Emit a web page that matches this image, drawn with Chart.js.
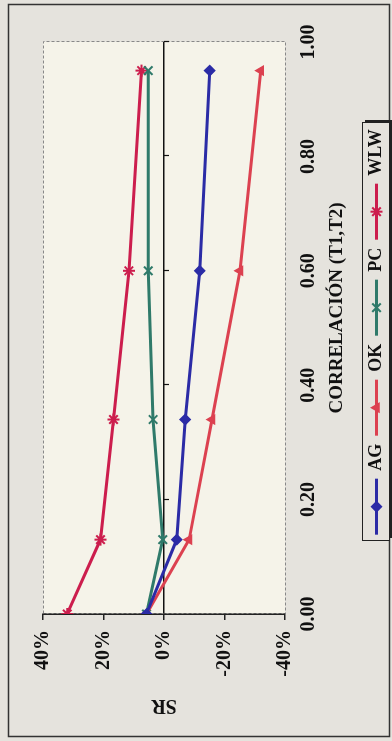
<!DOCTYPE html>
<html>
<head>
<meta charset="utf-8">
<script src="https://cdn.jsdelivr.net/npm/chart.js@4/dist/chart.umd.min.js"></script>
<style>
  html, body { margin: 0; padding: 0; background: #e5e3dd; overflow: hidden; }
  /* the chart is drawn upright, then turned a quarter to the left like the scan */
  #wrap {
    position: absolute; left: 0; top: 0; width: 741px; height: 392px;
    transform-origin: 0 0; transform: translateY(741px) rotate(-90deg);
  }
</style>
</head>
<body>
<div id="wrap"><canvas id="chart" width="741" height="392"></canvas></div>
<script>
const correlacion = [0, 0.13, 0.34, 0.60, 0.95];
const srAG  = [0.058, -0.042, -0.070, -0.118, -0.151];
const srOK  = [0.058, -0.083, -0.159, -0.251, -0.320];
const srPC  = [0.058, 0.004, 0.036, 0.052, 0.052];
const srWLW = [0.320, 0.210, 0.167, 0.116, 0.074];
const seriesNames = ['AG', 'OK', 'PC', 'WLW'];
const xTicks = [0, 0.2, 0.4, 0.6, 0.8, 1.0];
const yTicks = [-0.4, -0.2, 0, 0.2, 0.4];
const xTitle = 'CORRELACIÓN (T1,T2)';

const serif = "'Liberation Serif', 'Times New Roman', serif";
const bg = '#e5e3dd';

function pts(vals) {
    return correlacion.map((c, i) => ({ x: c, y: vals[i] }));
}

const styles = [
    { color: '#2b2ba6', pointStyle: 'rectRot', radius: 5, bw: 1.5 },
    { color: '#dc4150', pointStyle: 'triangle', radius: 5, bw: 1.5 },
    { color: '#2f7a6a', pointStyle: 'crossRot', radius: 6, bw: 2 },
    { color: '#cc1d4d', pointStyle: 'star', radius: 6, bw: 2 }
];
const values = [srAG, srOK, srPC, srWLW];

const datasets = seriesNames.map((name, i) => ({
    label: name,
    data: pts(values[i]),
    borderColor: styles[i].color,
    backgroundColor: styles[i].color,
    borderWidth: 3,
    pointStyle: styles[i].pointStyle,
    pointRadius: styles[i].radius,
    pointBorderWidth: styles[i].bw,
    tension: 0
}));

// page, outer frame and plot area
const frame = {
    id: 'frame',
    beforeDraw(chart) {
        const { ctx, chartArea: a } = chart;
        ctx.save();
        ctx.fillStyle = bg;
        ctx.fillRect(0, 0, chart.width, chart.height);
        ctx.strokeStyle = '#333';
        ctx.lineWidth = 1.5;
        ctx.strokeRect(4.5, 8.5, 732, 381);
        ctx.fillStyle = '#f5f3e9';
        ctx.fillRect(a.left, a.top, a.right - a.left, a.bottom - a.top);
        ctx.strokeStyle = '#888';
        ctx.lineWidth = 1;
        ctx.setLineDash([3, 2]);
        ctx.strokeRect(a.left + 0.5, a.top + 0.5, a.right - a.left, a.bottom - a.top);
        ctx.restore();
    }
};

// small tick marks hanging under the 0% line
const zeroTicks = {
    id: 'zeroTicks',
    beforeDatasetsDraw(chart) {
        const { ctx, scales: { x, y } } = chart;
        const y0 = y.getPixelForValue(0);
        ctx.save();
        ctx.strokeStyle = '#111';
        ctx.lineWidth = 1.2;
        xTicks.slice(1).forEach(v => {
            const px = Math.round(x.getPixelForValue(v)) + 0.5;
            ctx.beginPath();
            ctx.moveTo(px, y0);
            ctx.lineTo(px, y0 + 5);
            ctx.stroke();
        });
        ctx.restore();
    }
};

// x axis title sits a bit right of the plot centre in the scan
const xAxisTitle = {
    id: 'xAxisTitle',
    afterDraw(chart) {
        const { ctx, chartArea: a } = chart;
        ctx.save();
        ctx.font = 'bold 19px ' + serif;
        ctx.fillStyle = '#111';
        ctx.textAlign = 'center';
        ctx.textBaseline = 'middle';
        ctx.fillText(xTitle, (a.left + a.right) / 2 + 20, a.bottom + 52);
        ctx.restore();
    }
};

// Excel style legend: line with marker, boxed, with a shadow
const legendBox = {
    id: 'legendBox',
    afterDraw(chart) {
        const { ctx, chartArea: a } = chart;
        const w = 418, h = 27;
        const left = (a.left + a.right) / 2 - 4 - w / 2;
        const top = a.bottom + 77;
        ctx.save();
        ctx.fillStyle = '#222';
        ctx.fillRect(left + 3, top + 3, w, h);
        ctx.fillStyle = bg;
        ctx.fillRect(left, top, w, h);
        ctx.strokeStyle = '#222';
        ctx.lineWidth = 1;
        ctx.strokeRect(left + 0.5, top + 0.5, w, h);

        ctx.font = 'bold 18px ' + serif;
        ctx.textBaseline = 'middle';
        const sym = 56, gap = 8, pad = 8;
        const items = chart.data.datasets.map(d => ({ d, tw: ctx.measureText(d.label).width }));
        const total = items.reduce((s, it) => s + sym + gap + it.tw, 0) + pad * (items.length - 1);
        let cx = left + w / 2 - total / 2;
        const cy = top + h / 2 + 1;
        items.forEach(({ d, tw }) => {
            ctx.strokeStyle = d.borderColor;
            ctx.fillStyle = d.backgroundColor;
            ctx.lineWidth = 3;
            ctx.beginPath();
            ctx.moveTo(cx, cy);
            ctx.lineTo(cx + sym, cy);
            ctx.stroke();
            ctx.lineWidth = d.pointBorderWidth;
            Chart.helpers.drawPoint(ctx, {
                pointStyle: d.pointStyle, radius: d.pointRadius, rotation: 0, borderWidth: d.pointBorderWidth
            }, cx + sym / 2, cy);
            ctx.fillStyle = '#111';
            ctx.fillText(d.label, cx + sym + gap, cy);
            cx += sym + gap + tw + pad;
        });
        ctx.restore();
    }
};

new Chart(document.getElementById('chart'), {
    type: 'line',
    data: { datasets },
    options: {
        responsive: false,
        animation: false,
        devicePixelRatio: 1,
        layout: { padding: { top: 43, right: 42, bottom: 0, left: 8 } },
        plugins: {
            legend: { display: false },
            tooltip: { enabled: false }
        },
        scales: {
            x: {
                type: 'linear',
                min: 0,
                max: 1,
                afterBuildTicks: s => { s.ticks = xTicks.map(v => ({ value: v })); },
                afterFit: s => { s.height = 107; },
                grid: { display: false, drawTicks: false },
                border: { display: false },
                ticks: {
                    maxRotation: 0,
                    minRotation: 0,
                    padding: 12,
                    color: '#111',
                    font: { family: serif, size: 20, weight: 'bold' },
                    callback: v => Number(v).toFixed(2)
                },
                title: { display: false }
            },
            y: {
                min: -0.4,
                max: 0.4,
                afterBuildTicks: s => { s.ticks = yTicks.map(v => ({ value: v })); },
                afterFit: s => { s.width = 119; },
                grid: {
                    color: c => (c.tick && c.tick.value === 0 ? '#111' : 'rgba(0,0,0,0)'),
                    tickColor: '#222',
                    tickLength: 6,
                    lineWidth: 1.5
                },
                border: { display: true, color: '#222', width: 1.5 },
                ticks: {
                    padding: 10,
                    color: '#111',
                    font: { family: serif, size: 20, weight: 'bold' },
                    callback: v => Math.round(v * 100) + '%'
                },
                title: {
                    display: true,
                    text: 'SR',
                    color: '#111',
                    font: { family: serif, size: 20, weight: 'bold' },
                    padding: { top: 16, bottom: 0 }
                }
            }
        }
    },
    plugins: [frame, zeroTicks, xAxisTitle, legendBox]
});
</script>
</body>
</html>
